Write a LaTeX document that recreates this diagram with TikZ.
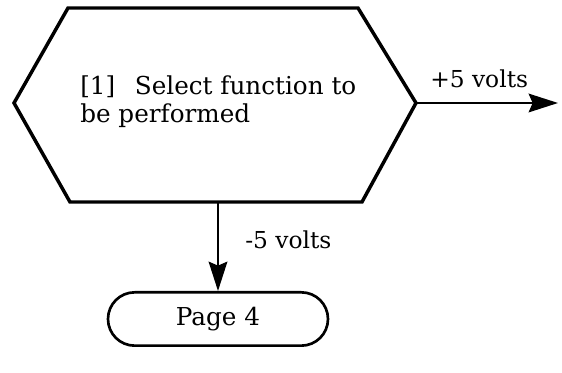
\documentclass[tikz,border=0pt]{standalone}
\usepackage{fontspec}
\setmainfont{DejaVu Serif}
\usetikzlibrary{arrows.meta,positioning}
\tikzset{
  outline/.style={line width=2.6pt, line join=miter},
  conn/.style={line width=1.6pt, -{Stealth[length=22pt,width=14pt,inset=3pt]}},
  lbl/.style={font=\fontsize{17.5}{21}\selectfont, inner sep=0pt},
  term/.style={draw, line width=2pt, rounded corners=20pt, minimum width=165pt, minimum height=40pt, font=\fontsize{18.5}{22}\selectfont}
}
\begin{document}
\begin{tikzpicture}[x=0.75pt,y=-0.75pt]
\useasboundingbox (0,0) rectangle (562,373);
% decision hexagon
\draw[outline] (14,103) -- (68,8) -- (358,8) -- (416,103) -- (362,202) -- (70,202) -- cycle;
\node[font=\fontsize{18.5}{21}\selectfont, inner sep=0pt, align=left, anchor=north west] (txt) at (80,75) {[1]\hspace{0.8em}Select function to\\be performed};
\coordinate (hexR) at (416,103);
\coordinate (hexB) at (218,202);
\coordinate (out) at (558,103);
\node[term] (page) at (218,319) {Page 4};
\draw[conn] (hexR) -- (out);
\draw[conn] (hexB) -- (page.north);
\node[lbl, anchor=base west] (plus) at (430,88) {+5 volts};
\node[lbl, anchor=west] (minus) at (245,240) {-5 volts};
\end{tikzpicture}
\end{document}
